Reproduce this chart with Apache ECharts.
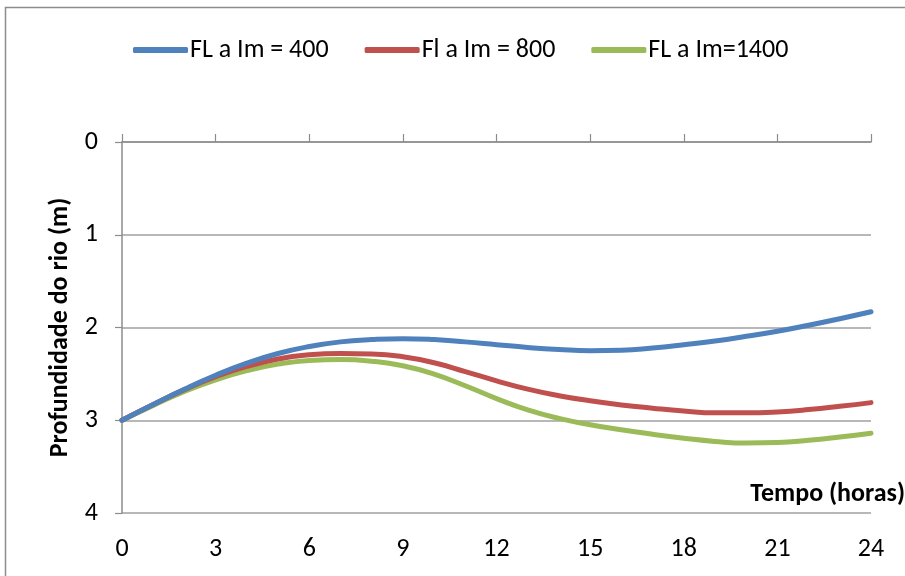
<!DOCTYPE html>
<html><head><meta charset="utf-8">
<script src="https://cdn.jsdelivr.net/npm/echarts@6/dist/echarts.min.js"></script>
<style>html,body{margin:0;padding:0;background:#fff}#c{width:905px;height:576px}</style>
</head><body><div id="c"></div>
<script>
const hours = [0,1,2,3,4,5,6,7,8,9,10,11,12,13,14,15,16,17,18,19,20,21,22,23,24];
const seriesNames = ['FL a Im = 400','Fl a Im = 800','FL a Im=1400'];
const blue400  = [3.00,2.83,2.665,2.515,2.385,2.28,2.205,2.155,2.13,2.12,2.13,2.155,2.185,2.215,2.237,2.25,2.245,2.22,2.185,2.145,2.095,2.04,1.975,1.905,1.83];
const red800   = [3.00,2.83,2.67,2.53,2.42,2.34,2.295,2.28,2.285,2.315,2.38,2.475,2.575,2.665,2.735,2.79,2.835,2.87,2.90,2.92,2.92,2.91,2.885,2.85,2.81];
const green1400= [3.00,2.84,2.69,2.565,2.465,2.395,2.355,2.345,2.363,2.413,2.503,2.628,2.766,2.888,2.98,3.048,3.103,3.151,3.193,3.228,3.246,3.241,3.216,3.181,3.141];
const colors = ['#4F81BD','#C0504D','#9BBB59'];
const FONT = 'Carlito, "Liberation Sans Narrow", Lato, sans-serif';

const chart = echarts.init(document.getElementById('c'), null, {renderer:'canvas'});
const mk = (arr) => hours.map((h,i)=>[h,arr[i]]);
const data = [blue400, red800, green1400];
chart.setOption({
  animation:false,
  textStyle:{fontFamily:FONT},
  graphic:[
    {type:'rect', shape:{x:5.5,y:7.5,width:1000,height:1000}, style:{fill:'none',stroke:'#8c8c8c',lineWidth:1.5}, silent:true},
    {type:'text', right:0, top:481, style:{text:'Tempo (horas)', font:'bold 26px '+FONT, fill:'#000'}}
  ],
  legend:{
    top:32, left:128, itemWidth:55, itemHeight:6, itemGap:36, icon:'roundRect',
    textStyle:{fontSize:26, color:'#000', fontFamily:FONT, padding:[0,0,0,-3]},
    data:seriesNames
  },
  grid:{left:122, right:34, top:142, bottom:63, containLabel:false},
  xAxis:{
    type:'value', min:0, max:24, interval:3,
    axisLine:{lineStyle:{color:'#8c8c8c',width:1.5}},
    axisTick:{inside:true, length:8, lineStyle:{color:'#8c8c8c',width:1.2}},
    axisLabel:{fontSize:26, color:'#000', margin:23, fontFamily:FONT},
    splitLine:{show:false}
  },
  yAxis:{
    type:'value', min:0, max:4, interval:1, inverse:true,
    name:'Profundidade do rio (m)', nameLocation:'middle', nameGap:47,
    nameTextStyle:{fontSize:26, fontWeight:'bold', color:'#000', fontFamily:FONT},
    axisLine:{show:true, lineStyle:{color:'#8c8c8c',width:1.5}},
    axisTick:{show:true, length:7, lineStyle:{color:'#8c8c8c',width:1.2}},
    axisLabel:{fontSize:26, color:'#000', margin:24, fontFamily:FONT},
    splitLine:{show:true, lineStyle:{color:'#a0a0a0',width:1.5}}
  },
  series: seriesNames.map((n,i)=>({
    name:n, type:'line', data:mk(data[i]), smooth:0.5, showSymbol:false, symbol:'none',
    lineStyle:{color:colors[i], width:5, cap:'round'}, itemStyle:{color:colors[i]}, z:3-i
  }))
});
</script></body></html>
